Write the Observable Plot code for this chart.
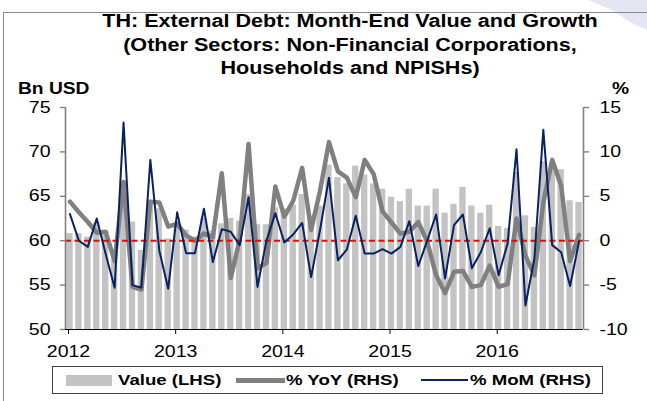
<!DOCTYPE html>
<html><head><meta charset="utf-8">
<script src="https://cdn.jsdelivr.net/npm/d3@7"></script>
<script src="https://cdn.jsdelivr.net/npm/@observablehq/plot@0.6"></script>
<style>
html,body{margin:0;padding:0;background:#fff;}
#wrap{position:relative;width:647px;height:401px;overflow:hidden;font-family:"Liberation Sans",Arial,sans-serif;color:#000;}
#chart{position:absolute;left:0;top:0;}
#frame{position:absolute;left:3px;top:12px;width:700px;height:500px;border-left:1px solid #8a8a8a;border-top:1px solid #8a8a8a;}
#corner{position:absolute;left:0;top:0;}
.title{position:absolute;left:0;top:10px;width:700px;text-align:center;font-weight:bold;font-size:18px;line-height:23.5px;transform:scaleX(1.2);transform-origin:350px 0;}
.axt{position:absolute;font-weight:bold;font-size:16px;white-space:nowrap;transform:scaleX(1.2);}
#legend{position:absolute;left:52px;top:366px;width:551px;height:28px;border:1px solid #404040;box-sizing:border-box;background:#fff;}
.lt{position:absolute;font-weight:bold;font-size:15.5px;white-space:nowrap;transform:scaleX(1.2);transform-origin:0 50%;top:371px;line-height:18px;}
.sw{position:absolute;}
</style>
</head>
<body>
<div id="wrap">
  <svg id="corner" width="647" height="40"><polygon points="588,0 647,0 647,30 630,22 612,10" fill="#e4e6f3"/></svg>
  <div id="frame"></div>
  <div id="chart"></div>
  <div class="title">TH: External Debt: Month-End Value and Growth<br>(Other Sectors: Non-Financial Corporations,<br>Households and NPISHs)</div>
  <div class="axt" style="left:18px;top:80px;transform-origin:0 50%;">Bn USD</div>
  <div class="axt" style="left:612px;top:80px;transform-origin:0 50%;">%</div>
  <div id="legend"></div>
  <div class="sw" style="left:66px;top:375px;width:46px;height:11px;background:#c3c3c3;"></div>
  <div class="lt" style="left:118px;">Value (LHS)</div>
  <div class="sw" style="left:236px;top:378px;width:49px;height:4.5px;background:#808080;"></div>
  <div class="lt" style="left:286px;">% YoY (RHS)</div>
  <div class="sw" style="left:421px;top:379px;width:47px;height:2px;background:#0a2264;"></div>
  <div class="lt" style="left:470px;">% MoM (RHS)</div>
</div>
<script>
const months = [
  "2012-01","2012-02","2012-03","2012-04","2012-05","2012-06","2012-07","2012-08","2012-09","2012-10","2012-11","2012-12",
  "2013-01","2013-02","2013-03","2013-04","2013-05","2013-06","2013-07","2013-08","2013-09","2013-10","2013-11","2013-12",
  "2014-01","2014-02","2014-03","2014-04","2014-05","2014-06","2014-07","2014-08","2014-09","2014-10","2014-11","2014-12",
  "2015-01","2015-02","2015-03","2015-04","2015-05","2015-06","2015-07","2015-08","2015-09","2015-10","2015-11","2015-12",
  "2016-01","2016-02","2016-03","2016-04","2016-05","2016-06","2016-07","2016-08","2016-09","2016-10"
];
// Value, Bn USD (LHS)
const valueBn = [
  60.8,60.8,60.4,62.0,61.1,58.5,66.6,62.1,58.9,64.4,63.6,60.2,
  62.0,61.2,60.4,62.5,61.1,61.9,62.5,62.2,65.2,61.8,61.8,63.7,
  63.6,64.0,65.2,62.8,63.9,68.5,67.1,66.4,68.4,67.4,66.4,65.8,
  64.9,64.4,65.8,63.9,63.9,65.8,63.1,64.1,66.0,63.9,63.1,64.0,
  61.6,61.4,67.7,62.8,61.5,68.9,68.7,68.0,64.5,64.3
];
// % YoY (RHS)
const yoyPct = [
  4.4,3.2,2.1,0.9,1.0,-2.3,6.6,-5.2,-5.5,4.4,4.3,1.6,
  1.9,0.6,0.0,0.8,0.4,7.6,-4.2,0.1,10.9,-3.1,-2.5,6.1,
  2.7,4.5,8.2,1.2,5.6,11.1,7.8,7.1,4.9,9.1,7.5,3.3,
  2.05,0.8,1.0,2.1,-0.1,-3.9,-5.9,-3.5,-3.4,-5.2,-5.0,-2.8,
  -5.2,-4.9,2.5,-1.7,-3.9,4.3,9.1,6.2,-2.3,0.65
];
// % MoM (RHS)
const momPct = [
  3.0,0.0,-0.7,2.5,-1.5,-5.3,13.3,-5.0,-5.3,9.1,-1.1,-5.4,
  3.2,-1.4,-1.4,3.6,-2.4,1.3,1.0,-0.5,4.9,-5.2,0.0,3.1,
  -0.2,0.7,2.0,-4.1,1.2,7.1,-2.2,-1.0,2.8,-1.45,-1.45,-0.95,
  -1.45,-0.7,2.2,-2.85,0.0,2.95,-4.25,1.75,2.95,-3.1,-1.3,1.4,
  -3.9,-0.3,10.3,-7.3,-2.0,12.5,-0.5,-1.3,-5.1,-0.1
];
const leftTicks = [50,55,60,65,70,75];
const rightTicks = [-10,-5,0,5,10,15];
const yearLabels = ["2012","2013","2014","2015","2016"];

// RHS axis (-10..15) is aligned with LHS (50..75): offset between the two axes
const rhsOffset = leftTicks[0] - rightTicks[0];

const data = months.map((m, i) => ({i, m, value: valueBn[i], yoy: yoyPct[i], mom: momPct[i]}));
const yearTicks = yearLabels.map(y => months.indexOf(y + "-01"));

const plot = Plot.plot({
  width: 647,
  height: 401,
  marginLeft: 65,
  marginRight: 64,
  marginTop: 107,
  marginBottom: 72,
  style: {fontFamily: "'Liberation Sans', Arial, sans-serif", fontSize: "16px", background: "transparent", color: "#000"},
  x: {type: "linear", domain: [0, months.length]},
  y: {domain: [leftTicks[0], leftTicks[leftTicks.length - 1]]},
  marks: [
    Plot.rectY(data, {x1: "i", x2: d => d.i + 1, y1: leftTicks[0], y2: "value", fill: "#c3c3c3", insetLeft: 1.3, insetRight: 1.3}),
    Plot.line(data, {x: d => d.i + 0.5, y: d => d.yoy + rhsOffset, stroke: "#808080", strokeWidth: 4.5}),
    Plot.ruleY([rhsOffset], {stroke: "#ff0000", strokeWidth: 2, strokeDasharray: "6,3.5"}),
    Plot.line(data, {x: d => d.i + 0.5, y: d => d.mom + rhsOffset, stroke: "#0a2264", strokeWidth: 2}),
    Plot.ruleX([0], {stroke: "#808080", strokeWidth: 1.6}),
    Plot.ruleX([months.length], {stroke: "#808080", strokeWidth: 1.6}),
    Plot.ruleY([leftTicks[0]], {stroke: "#000", strokeWidth: 1.2}),
    Plot.axisY({anchor: "left", ticks: leftTicks, tickSize: 5, tickPadding: 10, stroke: "#808080", strokeWidth: 1.4, fill: "#000", label: null}),
    Plot.axisY({anchor: "right", ticks: rightTicks.map(v => v + rhsOffset), tickFormat: d => String(d - rhsOffset), tickSize: 5, tickPadding: 11, stroke: "#808080", strokeWidth: 1.4, fill: "#000", label: null}),
    Plot.axisX({ticks: yearTicks, tickFormat: (d, k) => yearLabels[k], tickSize: 5, tickPadding: 11, stroke: "#000", fill: "#000", label: null, dx: 3})
  ]
});
document.getElementById("chart").append(plot);
// widen glyphs to match the horizontally stretched reference lettering
plot.querySelectorAll("text").forEach(t => {
  const L = t.getComputedTextLength();
  if (L > 0) { t.setAttribute("textLength", L * 1.22); t.setAttribute("lengthAdjust", "spacingAndGlyphs"); }
});
</script>
</body></html>
